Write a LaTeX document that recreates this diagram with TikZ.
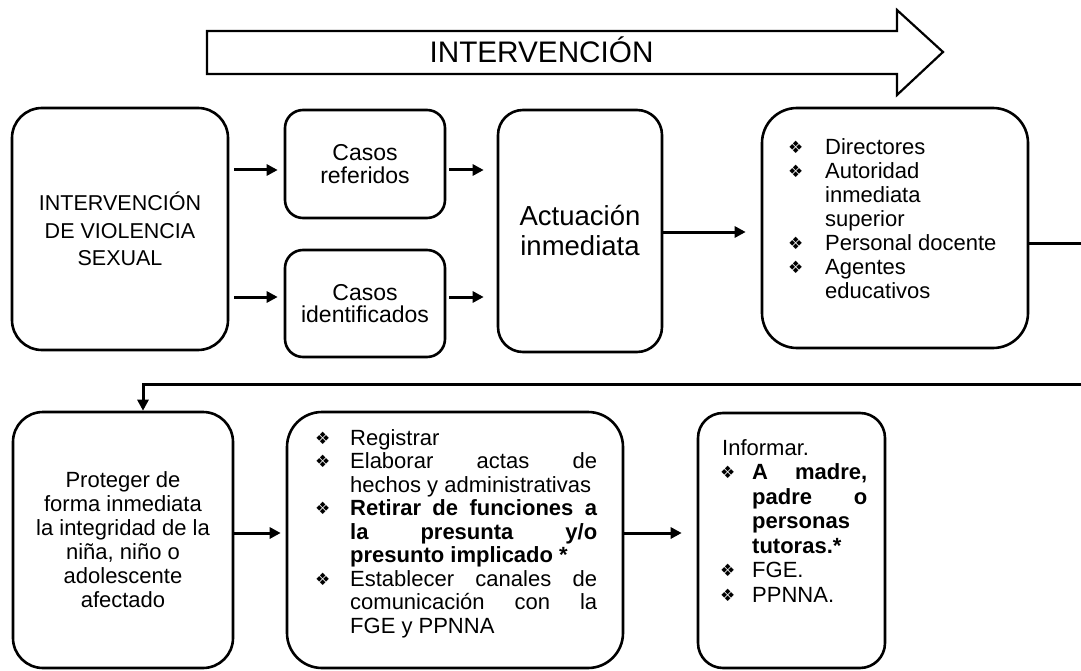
\documentclass[tikz,border=0pt]{standalone}
\usepackage{fontspec}
\setmainfont{Liberation Sans}
\newfontfamily\dejavu{DejaVu Sans}
\usetikzlibrary{arrows.meta}
\newcommand\bul{{\dejavu\fontsize{17}{17}\selectfont\raisebox{1pt}{❖}}}
\newcommand\bi[1]{\makebox[#1][l]{\hspace*{-2pt}\bul}}
\newcommand\ind[1]{\hspace*{#1}}
\tikzset{
  box/.style={draw, line width=2.6pt, inner sep=0pt, align=center},
  arr/.style={line width=3pt, -{Triangle[length=11pt,width=11pt]}},
  lst/.style={anchor=base west, inner sep=0pt},
}
\begin{document}
\begin{tikzpicture}[x=1pt,y=-1pt]
\useasboundingbox (0,0) rectangle (1081,671);
\begin{scope}
\clip (0,0) rectangle (1081,671);
% big arrow
\draw[line width=2.2pt, line join=miter] (207,31) -- (897,31) -- (897,10) -- (943,52) -- (897,95) -- (897,74) -- (207,74) -- cycle;
\node[anchor=base, inner sep=0pt, font=\fontsize{29.7}{29.7}\selectfont] (title) at (541.5,63) {INTERVENCIÓN};
% boxes
\node[box, minimum width=216pt, minimum height=242pt, rounded corners=30pt,
      font=\fontsize{21.5}{27.5}\selectfont] (A) at (120,229) {INTERVENCIÓN\\DE VIOLENCIA\\SEXUAL};
\node[box, minimum width=160pt, minimum height=108pt, rounded corners=18pt,
      font=\fontsize{23}{22.5}\selectfont] (B) at (365,164) {Casos\\referidos};
\node[box, minimum width=160pt, minimum height=107pt, rounded corners=18pt,
      font=\fontsize{23}{22.5}\selectfont] (C) at (365,303.5) {Casos\\identificados};
\node[box, minimum width=164pt, minimum height=242pt, rounded corners=25pt,
      font=\fontsize{27.5}{30}\selectfont] (D) at (580,231) {Actuación\\inmediata};
\node[box, minimum width=266pt, minimum height=240pt, rounded corners=35pt] (E) at (895,228) {};
\node[lst] (Et) at (790,155) {\parbox[t]{230pt}{\fontsize{22}{24}\selectfont
  \bi{35pt}Directores\\
  \bi{35pt}Autoridad\\
  \ind{35pt}inmediata\\
  \ind{35pt}superior\\
  \bi{35pt}Personal docente\\
  \bi{35pt}Agentes\\
  \ind{35pt}educativos}};
\node[box, minimum width=220pt, minimum height=256pt, rounded corners=30pt,
      font=\fontsize{22}{24}\selectfont] (F) at (123,540) {Proteger de\\forma inmediata\\la integridad de la\\niña, niño o\\adolescente\\afectado};
\node[box, minimum width=336pt, minimum height=256pt, rounded corners=35pt] (G) at (455,540) {};
\node[lst] (Gt) at (317,445) {\parbox[t]{280pt}{\fontsize{22}{23.5}\selectfont
  \bi{33pt}Registrar\\
  \bi{33pt}Elaborar\hfill actas\hfill de\\
  \ind{33pt}hechos y administrativas\\
  \bi{33pt}\textbf{Retirar\hfill de\hfill funciones\hfill a}\\
  \ind{33pt}\textbf{la\hfill presunta\hfill y/o}\\
  \ind{33pt}\textbf{presunto implicado *}\\
  \bi{33pt}Establecer\hfill canales\hfill de\\
  \ind{33pt}comunicación\hfill con\hfill la\\
  \ind{33pt}FGE y PPNNA}};
\node[box, minimum width=187pt, minimum height=255pt, rounded corners=25pt] (H) at (791.5,540.5) {};
\node[lst] (Ht) at (722,455) {\parbox[t]{145pt}{\fontsize{22}{24.5}\selectfont
  Informar.\\
  \bi{30pt}\textbf{A\hfill madre,}\\
  \ind{30pt}\textbf{padre\hfill o}\\
  \ind{30pt}\textbf{personas}\\
  \ind{30pt}\textbf{tutoras.*}\\
  \bi{30pt}FGE.\\
  \bi{30pt}PPNNA.}};
% connectors
\coordinate (yAB) at (0,170);
\coordinate (yAC) at (0,297);
\coordinate (yDE) at (0,232);
\coordinate (yE) at (0,243);
\coordinate (turn) at (1095,384);
\coordinate (yFG) at (0,533);
\draw[arr, shorten <=5pt, shorten >=6pt] (A.east |- yAB) -- (B.west |- yAB);
\draw[arr, shorten <=5pt, shorten >=6pt] (A.east |- yAC) -- (C.west |- yAC);
\draw[arr, shorten <=3pt, shorten >=13pt] (B.east |- yAB) -- (D.west |- yAB);
\draw[arr, shorten <=3pt, shorten >=13pt] (C.east |- yAC) -- (D.west |- yAC);
\draw[arr, shorten >=15pt] (D.east |- yDE) -- (E.west |- yDE);
\draw[arr] (E.east |- yE) -| (turn) -| ([xshift=20pt]F.north);
\draw[arr, shorten >=5pt] (F.east |- yFG) -- (G.west |- yFG);
\draw[arr, shorten >=15pt] (G.east |- yFG) -- (H.west |- yFG);
\end{scope}
\end{tikzpicture}
\end{document}
